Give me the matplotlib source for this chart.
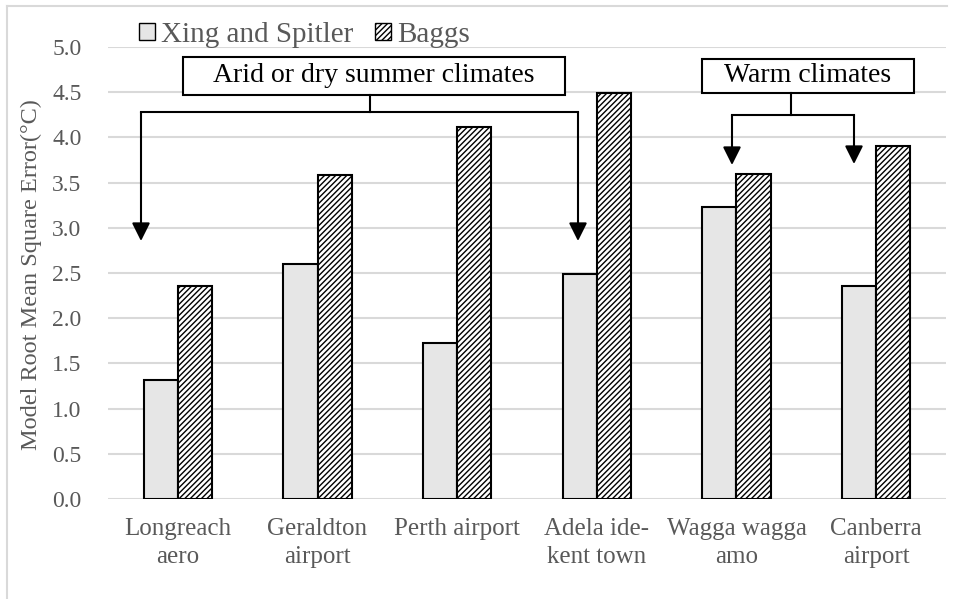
import matplotlib
matplotlib.use("Agg")
import matplotlib.pyplot as plt
from matplotlib.patches import Rectangle, Patch, FancyArrowPatch
from matplotlib.lines import Line2D
import numpy as np

categories = ["Longreach\naero", "Geraldton\nairport", "Perth airport",
              "Adela ide-\nkent town", "Wagga wagga\namo", "Canberra\nairport"]
xing = [1.32, 2.60, 1.73, 2.49, 3.23, 2.36]
baggs = [2.36, 3.58, 4.12, 4.49, 3.60, 3.91]
yticks = [0.0, 0.5, 1.0, 1.5, 2.0, 2.5, 3.0, 3.5, 4.0, 4.5, 5.0]

plt.rcParams['font.family'] = ['Liberation Serif', 'DejaVu Serif']
plt.rcParams['hatch.linewidth'] = 1.0
grey = '#595959'

W, H = 957, 599
fig = plt.figure(figsize=(W / 100, H / 100), dpi=100)
ax = fig.add_axes([108 / W, (H - 499) / H, 838 / W, 452 / H])

x = np.arange(len(categories))
bw = 0.245
ax.bar(x - bw / 2, xing, bw, color='#e6e6e6', edgecolor='black', linewidth=1.5, zorder=3)
ax.bar(x + bw / 2, baggs, bw, color='white', edgecolor='black', linewidth=1.5,
       hatch='//////', zorder=3)

ax.set_xlim(-0.5, len(categories) - 0.5)
ax.set_ylim(0, 5.0)
ax.set_yticks(yticks)
ax.set_yticklabels([f"{v:.1f}" for v in yticks], color=grey, fontsize=17)
ax.set_xticks(x)
ax.set_xticklabels(categories, color=grey, fontsize=18, linespacing=1.3, va='top')
ax.tick_params(axis='both', length=0)
ax.tick_params(axis='x', pad=14)
ax.tick_params(axis='y', pad=19)
for s in ax.spines.values():
    s.set_visible(False)
ax.grid(axis='y', color='#d9d9d9', linewidth=1.5, zorder=0)
ax.set_axisbelow(True)

fig.text(31 / W, 1 - 275 / H, "Model Root Mean Square Error(°C)", rotation=90,
         ha='center', va='center', color=grey, fontsize=17.5)

# legend
handles = [Patch(facecolor='#e6e6e6', edgecolor='black', linewidth=1.0),
           Patch(facecolor='white', edgecolor='black', linewidth=1.0, hatch='//////')]
fig.legend(handles, ["Xing and Spitler", "Baggs"], loc='center left',
           bbox_to_anchor=(139 / W, 1 - 35 / H), ncol=2, frameon=False,
           fontsize=21, labelcolor=grey, handlelength=0.55, handleheight=0.55,
           handletextpad=0.2, columnspacing=0.75, borderaxespad=0, borderpad=0)

# figure border
fig.add_artist(Line2D([7 / W, 7 / W], [0, 1 - 6 / H], color='#d9d9d9', linewidth=1.5,
                      transform=fig.transFigure))
fig.add_artist(Line2D([7 / W, 947 / W], [1 - 6 / H, 1 - 6 / H], color='#d9d9d9',
                      linewidth=1.5, transform=fig.transFigure))

def px(xp, yp):
    return xp / W, 1 - yp / H

def box(x0, y0, x1, y1, text):
    fx, fy = px(x0, y1)
    fig.add_artist(Rectangle((fx, fy), (x1 - x0) / W, (y1 - y0) / H, facecolor='white',
                             edgecolor='black', linewidth=1.5, transform=fig.transFigure,
                             zorder=5))
    cx, cy = px((x0 + x1) / 2, (y0 + y1) / 2)
    fig.text(cx, cy, text, ha='center', va='center', fontsize=20, color='black', zorder=6)

def line(pts):
    xs = [p[0] / W for p in pts]
    ys = [1 - p[1] / H for p in pts]
    fig.add_artist(Line2D(xs, ys, color='black', linewidth=1.5, transform=fig.transFigure,
                          zorder=5))

def arrow(xp, y0, y1):
    fig.add_artist(FancyArrowPatch(
        px(xp, y0), px(xp, y1), transform=fig.transFigure,
        arrowstyle='-|>,head_length=1.1,head_width=0.55',
        mutation_scale=10, color='black', linewidth=1.5, shrinkA=0, shrinkB=0, zorder=5))

box(183, 57, 565, 95, "Arid or dry summer climates")
line([(370, 95), (370, 112)])
line([(141, 112), (578, 112)])
arrow(141, 112, 241)
arrow(578, 112, 241)

box(702, 59, 914, 93, "Warm climates")
line([(791, 93), (791, 115)])
line([(732, 115), (854, 115)])
arrow(732, 115, 165)
arrow(854, 115, 164)

fig.savefig("out.png", dpi=100)
